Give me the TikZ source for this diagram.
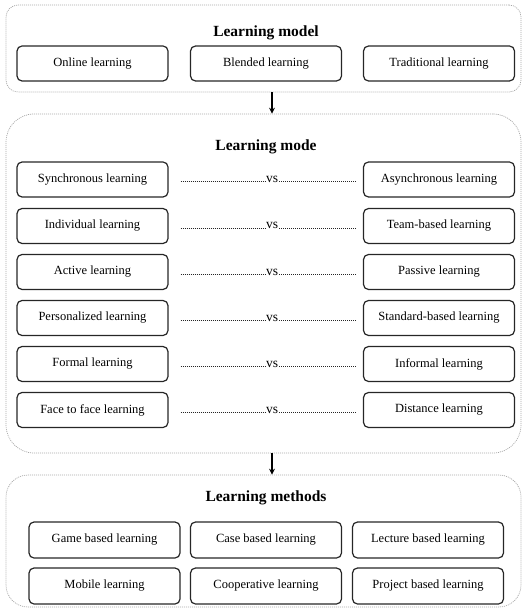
\documentclass[tikz,border=0pt]{standalone}
\usepackage{fontspec}
\setmainfont{Liberation Serif}
\usetikzlibrary{arrows.meta,calc}
\begin{document}
\begin{tikzpicture}[x=1pt,y=-1pt,
  container/.style={draw=gray!70, dash pattern=on 1pt off 1pt, line width=0.7pt, minimum width=515pt, inner sep=0pt},
  itembox/.style={draw=black!85, line width=1.2pt, rounded corners=5pt, minimum width=151pt, minimum height=35pt, inner sep=0pt, font=\fontsize{12.5}{14}\selectfont},
  title/.style={font=\fontsize{15.5}{18}\selectfont\bfseries},
  vsline/.style={line width=1.1pt, dash pattern=on 1pt off 1pt, black!85},
  vslabel/.style={font=\fontsize{13.5}{15}\selectfont, inner sep=1pt, anchor=base},
  flow/.style={line width=1.2pt, -{Stealth[length=6pt,width=6pt]}}
]
\useasboundingbox (0,0) rectangle (525,609);
% containers
\node[container, rounded corners=12pt, minimum height=87pt] (m1) at (263.5,48.5) {};
\node[container, rounded corners=28pt, minimum height=339pt] (m2) at (263.5,283.5) {};
\node[container, rounded corners=22pt, minimum height=132pt] (m3) at (263.5,541) {};
% titles
\node[title] (t1) at (266,33) {Learning model};
\node[title] (t2) at (266,147) {Learning mode};
\node[title] (t3) at (266,498) {Learning methods};
% learning model boxes
\node[itembox] (on) at (92.5,63.5) {Online learning};
\node[itembox] (bl) at (266,63.5) {Blended learning};
\node[itembox] (tr) at (439,63.5) {Traditional learning};
% learning mode pairs
\foreach \i/\l/\r/\y in {1/Synchronous learning/Asynchronous learning/179.5,
                          2/Individual learning/Team-based learning/226,
                          3/Active learning/Passive learning/272,
                          4/Personalized learning/Standard-based learning/318,
                          5/Formal learning/Informal learning/364,
                          6/Face to face learning/Distance learning/410}{
  \node[itembox] (L\i) at (92.5,\y) {\l};
  \node[itembox] (R\i) at (439,\y) {\r};
  \node[vslabel] (V\i) at (272,\y+3) {vs};
  \coordinate (P\i) at (0,\y+2.4);
  \draw[vsline] ([xshift=12pt]L\i.east |- P\i) -- (V\i.west |- P\i);
  \draw[vsline] (V\i.east |- P\i) -- ([xshift=-6pt]R\i.west |- P\i);
}
% learning methods
\node[itembox, minimum height=36pt] (g) at (104.5,540) {Game based learning};
\node[itembox, minimum height=36pt] (c) at (266,540) {Case based learning};
\node[itembox, minimum height=36pt] (le) at (428,540) {Lecture based learning};
\node[itembox, minimum height=36pt] (mo) at (104.5,586) {Mobile learning};
\node[itembox, minimum height=36pt] (co) at (266,586) {Cooperative learning};
\node[itembox, minimum height=36pt] (pr) at (428,586) {Project based learning};
% arrows
\coordinate (ax) at (272,0);
\draw[flow] (m1.south -| ax) -- (m2.north -| ax);
\draw[flow] (m2.south -| ax) -- (m3.north -| ax);
\end{tikzpicture}
\end{document}
